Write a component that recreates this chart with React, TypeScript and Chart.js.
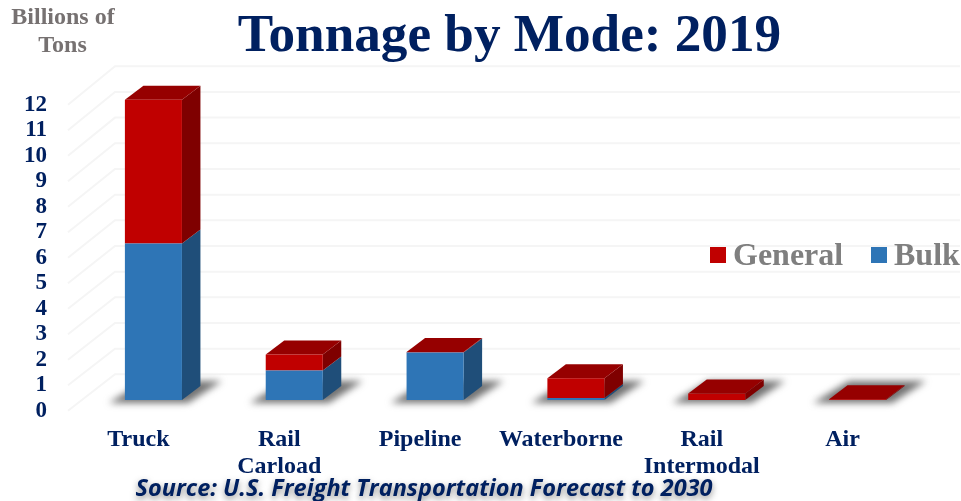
import React, { useEffect, useRef } from "react";
import { Chart, registerables } from "chart.js";

Chart.register(...registerables);

const categories: (string | string[])[] = ["Truck", ["Rail", "Carload"], "Pipeline", "Waterborne", ["Rail", "Intermodal"], "Air"];
const bulkValues = [6.1, 1.15, 1.85, 0.08, 0, 0];
const generalValues = [5.6, 0.62, 0.02, 0.77, 0.25, 0.03];
const axisTicks = [0, 1, 2, 3, 4, 5, 6, 7, 8, 9, 10, 11, 12];

const NAVY = "#002060";
const SERIF = "'Liberation Serif', serif";
const DX = 18.5;
const DY = -14;

const faceColors: Record<string, { side: string; top: string }> = {
  Bulk: { side: "#1f4e79", top: "#1f4e79" },
  General: { side: "#7f0000", top: "#960000" },
};

const poly = (ctx: CanvasRenderingContext2D, pts: number[][], fill: string) => {
  ctx.fillStyle = fill;
  ctx.beginPath();
  pts.forEach((p, i) => (i ? ctx.lineTo(p[0], p[1]) : ctx.moveTo(p[0], p[1])));
  ctx.closePath();
  ctx.fill();
};

const threeD = {
  id: "threeD",
  afterLayout(chart: any) {
    const t = chart.titleBlock;
    if (t) {
      t.left += 45.5;
      t.right += 45.5;
      t.top += 6;
      t.bottom += 6;
    }
  },
  beforeDatasetsDraw(chart: any) {
    const ctx: CanvasRenderingContext2D = chart.ctx;
    const yBars = chart.scales.y;
    const yLabels = chart.scales.yl;

    // wall and floor lines
    ctx.save();
    ctx.strokeStyle = "#f5f5f5";
    ctx.lineWidth = 2;
    axisTicks.forEach((k) => {
      const back = yBars.getPixelForValue(k + 1);
      ctx.beginPath();
      ctx.moveTo(68, yLabels.getPixelForValue(k));
      ctx.lineTo(115, back);
      ctx.lineTo(960, back);
      ctx.stroke();
    });
    ctx.restore();

    const metas = chart.getSortedVisibleDatasetMetas();
    const count = categories.length;

    // floor shadows
    ctx.save();
    ctx.filter = "blur(3.5px)";
    for (let i = 0; i < count; i++) {
      const b = metas[0].data[i];
      const l = b.x - b.width / 2;
      const r = b.x + b.width / 2;
      const base = yBars.getPixelForValue(0);
      poly(ctx, [[l - 16, base + 3], [r + 6, base + 3], [r + 40, base - 19], [l + 20, base - 19]], "rgba(90,90,90,0.85)");
    }
    ctx.restore();

    // side and top faces
    for (let i = 0; i < count; i++) {
      let topEl: any = null;
      let topLabel = "";
      metas.forEach((m: any) => {
        const el = m.data[i];
        const label = m.label;
        const value = chart.data.datasets[m.index].data[i];
        if (!value) return;
        const r = el.x + el.width / 2;
        poly(ctx, [[r, el.base], [r + DX, el.base + DY], [r + DX, el.y + DY], [r, el.y]], faceColors[label].side);
        topEl = el;
        topLabel = label;
      });
      if (topEl) {
        const l = topEl.x - topEl.width / 2;
        const r = topEl.x + topEl.width / 2;
        poly(ctx, [[l, topEl.y], [r, topEl.y], [r + DX, topEl.y + DY], [l + DX, topEl.y + DY]], faceColors[topLabel].top);
      }
    }
  },
  afterDraw(chart: any) {
    const ctx: CanvasRenderingContext2D = chart.ctx;
    ctx.save();
    // axis caption
    ctx.fillStyle = "#767171";
    ctx.font = `bold 24px ${SERIF}`;
    ctx.textAlign = "center";
    ctx.textBaseline = "alphabetic";
    ctx.fillText("Billions of", 63, 24);
    ctx.fillText("Tons", 62.5, 52);

    // legend
    const entries = [...chart.data.datasets].reverse();
    const boxX = [710, 871];
    ctx.textAlign = "left";
    ctx.font = `bold 32px ${SERIF}`;
    entries.forEach((d: any, i: number) => {
      ctx.fillStyle = d.backgroundColor;
      ctx.fillRect(boxX[i], 247, 16, 16);
      ctx.fillStyle = "#7f7f7f";
      ctx.fillText(d.label, boxX[i] + 23, 265);
    });

    // source line
    ctx.font = "italic bold 23.5px 'Open Sans', sans-serif";
    ctx.fillStyle = NAVY;
    ctx.shadowColor = "rgba(60,60,60,0.6)";
    ctx.shadowBlur = 6;
    ctx.shadowOffsetY = 3;
    ctx.textAlign = "center";
    ctx.fillText("Source: U.S. Freight Transportation Forecast to 2030", 424, 496);
    ctx.restore();
  },
};

export default function App() {
  const ref = useRef<HTMLCanvasElement>(null);
  useEffect(() => {
    const chart = new Chart(ref.current!, {
      type: "bar",
      data: {
        labels: categories as any,
        datasets: [
          { label: "Bulk", data: bulkValues, backgroundColor: "#2e75b6", yAxisID: "y" },
          { label: "General", data: generalValues, backgroundColor: "#c00000", yAxisID: "y" },
        ],
      },
      options: {
        responsive: false,
        animation: false,
        layout: { autoPadding: false, padding: { left: 0, right: 33, top: 0, bottom: 0 } },
        datasets: { bar: { categoryPercentage: 1, barPercentage: 0.405 } },
        plugins: {
          legend: { display: false },
          tooltip: { enabled: false },
          title: {
            display: true,
            text: "Tonnage by Mode: 2019",
            color: NAVY,
            font: { family: SERIF, size: 53.2, weight: "bold", lineHeight: 1.184 },
            padding: 0,
          },
        },
        scales: {
          x: {
            stacked: true,
            grid: { display: false },
            border: { display: false },
            afterFit: (s: any) => {
              s.height = 89;
            },
            ticks: {
              autoSkip: false,
              maxRotation: 0,
              minRotation: 0,
              labelOffset: -15,
              padding: 6,
              color: NAVY,
              font: { family: SERIF, size: 24, weight: "bold", lineHeight: 1.125 },
            },
          },
          y: {
            stacked: true,
            display: false,
            min: -0.4675,
            max: 13.128,
          },
          yl: {
            position: "left",
            min: -0.051,
            max: 13.635,
            grid: { display: false, drawTicks: false },
            border: { display: false },
            afterBuildTicks: (s: any) => {
              s.ticks = axisTicks.map((value) => ({ value }));
            },
            afterFit: (s: any) => {
              s.width = 83;
            },
            ticks: {
              padding: 36,
              color: NAVY,
              autoSkip: false,
              font: { family: SERIF, size: 23, weight: "bold" },
            },
          },
        },
      } as any,
      plugins: [threeD],
    });
    return () => chart.destroy();
  }, []);
  return (
    <canvas
      ref={ref}
      width={961}
      height={501}
      style={{ position: "fixed", left: 0, top: 0, display: "block" }}
    />
  );
}
